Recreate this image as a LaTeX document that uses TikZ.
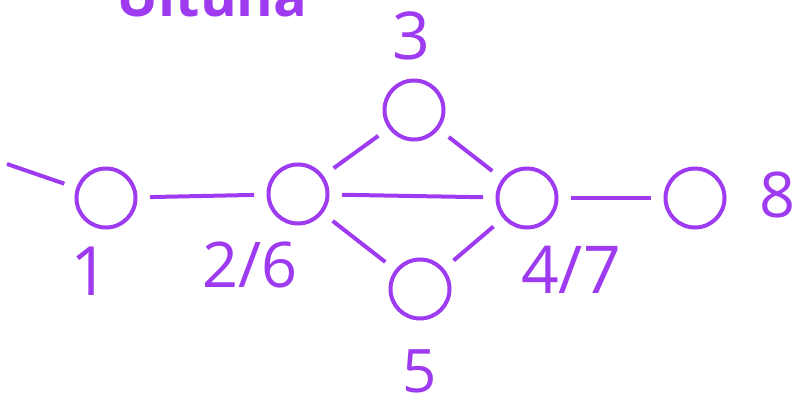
\documentclass[tikz,border=0pt]{standalone}
\usepackage{fontspec}
\setmainfont{Open Sans}
\definecolor{vio}{RGB}{158,58,240}
\begin{document}
\begin{tikzpicture}[x=1pt,y=-1pt,
  stn/.style={circle,draw=vio,line width=4pt,minimum size=59pt,inner sep=0pt},
  lnk/.style={draw=vio,line width=4pt,shorten >=12.5pt,shorten <=12.5pt},
  lbl/.style={text=vio,anchor=base,inner sep=0pt}]
\useasboundingbox (0,0) rectangle (794,403);
\node[stn] (n1) at (106,198) {};
\node[stn] (n26) at (298,194) {};
\node[stn] (n3) at (414,110) {};
\node[stn] (n47) at (527,198) {};
\node[stn] (n5) at (420,289) {};
\node[stn] (n8) at (695,198) {};
\coordinate (w) at (7,164);
\draw[draw=vio,line width=4pt,shorten >=12.5pt] (w) -- (n1);
\draw[lnk] (n1) -- (n26);
\draw[lnk] (n26) -- (n3);
\draw[lnk] (n26) -- (n47);
\draw[lnk] (n26) -- (n5);
\draw[lnk] (n3) -- (n47);
\draw[lnk] (n5) -- (n47);
\draw[lnk] (n47) -- (n8);
\node[lbl] (l1) at (90,295) {\fontsize{68}{68}\selectfont 1};
\node[lbl] (l26) at (250,287) {\fontsize{63}{63}\selectfont 2/6};
\node[lbl] (l3) at (411,60) {\fontsize{66}{66}\selectfont 3};
\node[lbl] (l47) at (571,293) {\fontsize{66}{66}\selectfont 4/7};
\node[lbl] (l5) at (420,392) {\fontsize{60}{60}\selectfont 5};
\node[lbl] (l8) at (777,218) {\fontsize{63}{63}\selectfont 8};
\node[lbl] (ul) at (212,17) {\fontsize{56}{56}\selectfont\bfseries Ultuna};
\end{tikzpicture}
\end{document}
